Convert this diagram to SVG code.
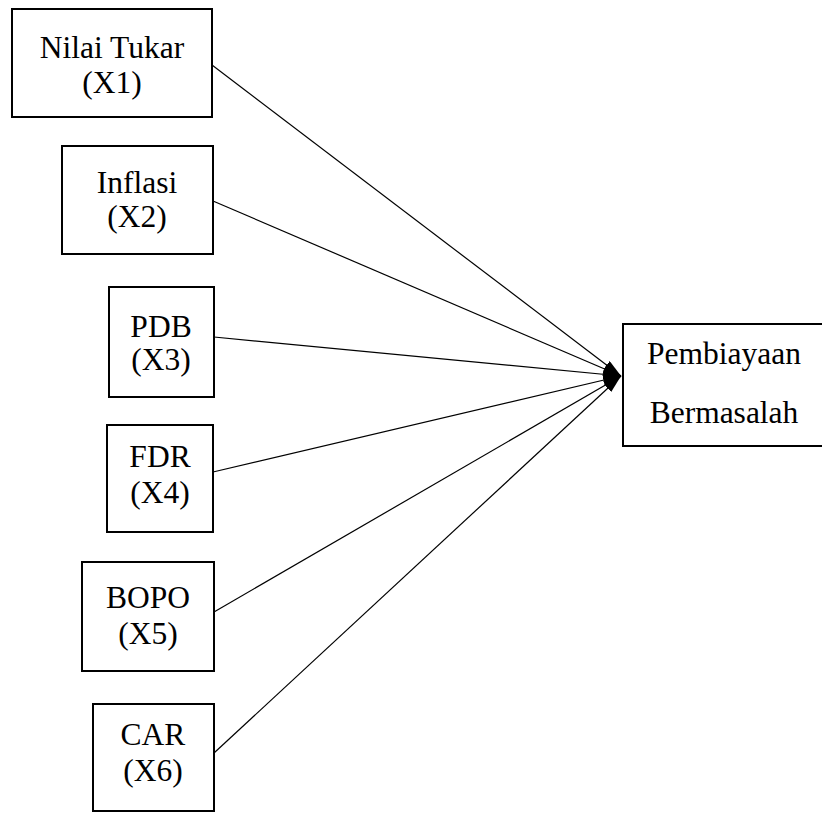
<svg xmlns="http://www.w3.org/2000/svg" width="822" height="813" viewBox="0 0 822 813">
<style>
.box{fill:#fff;stroke:#000;stroke-width:2}
.t{font-family:"Liberation Serif","Times New Roman","DejaVu Serif",serif;font-size:31.5px;fill:#000;text-anchor:middle}
.c{stroke:#000;stroke-width:1.2;fill:none;marker-end:url(#ah)}
</style>
<defs>
<marker id="ah" markerUnits="userSpaceOnUse" markerWidth="20" markerHeight="12" refX="18" refY="5" orient="auto">
<path d="M0,0 L18,5 L0,10 Z" fill="#000"/>
</marker>
</defs>
<rect width="822" height="813" fill="#fff"/>
<g id="connectors">
<line class="c" x1="212" y1="65" x2="621" y2="376"/>
<line class="c" x1="213" y1="201" x2="621" y2="376"/>
<line class="c" x1="214" y1="337" x2="621" y2="376"/>
<line class="c" x1="213" y1="472" x2="621" y2="376"/>
<line class="c" x1="214" y1="612" x2="621" y2="376"/>
<line class="c" x1="214" y1="753" x2="621" y2="376"/>
</g>
<g id="x1">
<rect class="box" x="12" y="9" width="200" height="108"/>
<text class="t" x="112" y="58">Nilai Tukar</text>
<text class="t" x="112" y="93">(X1)</text>
</g>
<g id="x2">
<rect class="box" x="62" y="146" width="151" height="108"/>
<text class="t" x="137" y="193">Inflasi</text>
<text class="t" x="137" y="227">(X2)</text>
</g>
<g id="x3">
<rect class="box" x="109" y="287" width="105" height="110"/>
<text class="t" x="161" y="337">PDB</text>
<text class="t" x="161" y="370">(X3)</text>
</g>
<g id="x4">
<rect class="box" x="107" y="425" width="106" height="107"/>
<text class="t" x="160" y="467">FDR</text>
<text class="t" x="160" y="503">(X4)</text>
</g>
<g id="x5">
<rect class="box" x="82" y="562" width="132" height="109"/>
<text class="t" x="148" y="608">BOPO</text>
<text class="t" x="148" y="644">(X5)</text>
</g>
<g id="x6">
<rect class="box" x="93" y="704" width="121" height="107"/>
<text class="t" x="153" y="745">CAR</text>
<text class="t" x="153" y="781">(X6)</text>
</g>
<g id="y">
<rect class="box" x="623" y="324" width="210" height="122"/>
<text class="t" x="724" y="364">Pembiayaan</text>
<text class="t" x="724" y="423">Bermasalah</text>
</g>
</svg>
